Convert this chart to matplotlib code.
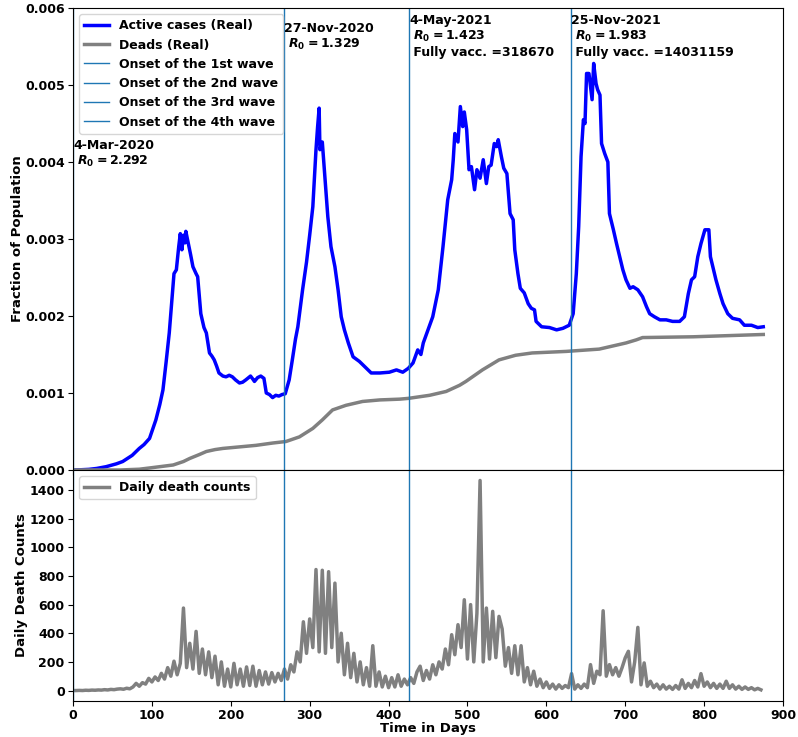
import numpy as np
import matplotlib.pyplot as plt

# active cases (fraction of population, x1e-3)
active_days = [0, 10, 20, 30, 42, 55, 63, 75, 84, 90, 97, 105, 110, 114, 118, 122, 126, 128, 131, 134,
               136, 138, 140, 142, 143, 146, 149, 152, 156, 158, 162, 166, 169, 173, 176, 179, 182, 185, 190, 194,
               198, 202, 206, 211, 215, 219, 225, 228, 230, 234, 238, 242, 245, 249, 253, 257, 261, 265, 269, 274,
               278, 282, 285, 291, 296, 300, 304, 308, 310, 312, 313, 316, 319, 323, 327, 332, 336, 340, 344, 349,
               355, 363, 372, 378, 389, 401, 410, 418, 425, 431, 437, 441, 444, 450, 456, 463, 469, 475, 480, 482,
               484, 488, 491, 494, 496, 499, 502, 505, 509, 512, 516, 520, 524, 527, 530, 534, 537, 539, 543, 546,
               550, 554, 558, 560, 564, 567, 572, 577, 581, 585, 587, 594, 604, 613, 621, 629, 634, 638, 641, 644,
               647, 649, 651, 654, 656, 658, 660, 663, 665, 668, 670, 674, 678, 680, 685, 689, 693, 697, 701, 706,
               710, 716, 722, 727, 731, 737, 744, 752, 760, 769, 775, 780, 784, 788, 792, 796, 801, 806, 808, 811,
               815, 820, 824, 830, 836, 845, 851, 860, 868, 875]
active_vals = [0.0, 0.003, 0.008, 0.02, 0.043, 0.08, 0.11, 0.19, 0.28, 0.33, 0.41, 0.65, 0.85, 1.04, 1.40, 1.78, 2.30, 2.55, 2.60, 2.90,
               3.07, 2.86, 3.05, 2.95, 3.10, 2.95, 2.80, 2.64, 2.55, 2.51, 2.03, 1.85, 1.78, 1.52, 1.48, 1.43, 1.35, 1.26, 1.22, 1.21,
               1.23, 1.21, 1.17, 1.13, 1.14, 1.17, 1.22, 1.18, 1.15, 1.20, 1.22, 1.19, 1.00, 0.98, 0.94, 0.97, 0.96, 0.98, 0.99, 1.17,
               1.43, 1.70, 1.86, 2.34, 2.70, 3.05, 3.42, 4.16, 4.45, 4.70, 4.16, 4.26, 3.85, 3.29, 2.90, 2.64, 2.34, 1.99, 1.82, 1.65,
               1.47, 1.41, 1.32, 1.26, 1.26, 1.27, 1.30, 1.27, 1.32, 1.39, 1.56, 1.50, 1.65, 1.82, 1.99, 2.34, 2.90, 3.51, 3.77, 4.03,
               4.37, 4.26, 4.72, 4.46, 4.65, 4.42, 3.90, 3.94, 3.64, 3.90, 3.79, 4.03, 3.72, 3.94, 3.96, 4.24, 4.20, 4.29, 4.07, 3.92,
               3.85, 3.33, 3.25, 2.86, 2.55, 2.36, 2.30, 2.16, 2.10, 2.08, 1.93, 1.86, 1.85, 1.82, 1.84, 1.88, 2.03, 2.55, 3.16, 4.07,
               4.55, 4.50, 5.15, 5.15, 4.98, 4.81, 5.28, 5.02, 4.94, 4.87, 4.24, 4.11, 4.00, 3.33, 3.12, 2.94, 2.77, 2.60, 2.47, 2.36,
               2.38, 2.34, 2.25, 2.12, 2.03, 1.99, 1.95, 1.95, 1.93, 1.93, 1.99, 2.29, 2.47, 2.51, 2.77, 2.94, 3.12, 3.12, 2.77, 2.64,
               2.47, 2.29, 2.16, 2.03, 1.97, 1.95, 1.88, 1.88, 1.85, 1.86]

# cumulative deaths (fraction of population, x1e-3)
dead_days = [0, 60, 84, 100, 127, 140, 148, 160, 169, 180, 190, 211, 232, 253, 270, 287, 304, 316, 329, 346,
             367, 389, 414, 425, 452, 473, 490, 498, 519, 540, 561, 582, 625, 667, 701, 714, 722, 786, 875]
dead_vals = [0.0, 0.0, 0.01, 0.03, 0.065, 0.11, 0.15, 0.20, 0.24, 0.265, 0.28, 0.30, 0.32, 0.35, 0.37, 0.43, 0.54, 0.65, 0.78, 0.84,
             0.89, 0.91, 0.92, 0.93, 0.97, 1.02, 1.10, 1.15, 1.30, 1.43, 1.49, 1.52, 1.54, 1.57, 1.65, 1.69, 1.72, 1.73, 1.76]

# daily death counts, one value every 4 days (day 0 .. 872)
daily_deaths = [
    0, 0, 1, 0, 2, 1, 3, 2, 4, 3, 6, 4, 8, 6, 10, 12, 9, 16, 12, 25, 50, 30, 55, 45, 85,
    60, 95, 70, 120, 80, 160, 100, 205, 110, 190, 576, 160, 330, 150, 413, 120, 290, 110, 270, 90, 240, 40, 200, 30, 150,
    25, 190, 40, 150, 30, 165, 35, 170, 30, 140, 40, 130, 45, 125, 60, 120, 70, 150, 80, 180, 130, 270, 200, 480, 260,
    500, 300, 845, 270, 840, 260, 830, 300, 750, 200, 400, 110, 330, 90, 260, 60, 200, 40, 160, 30, 313, 30, 130, 25, 100,
    20, 90, 25, 110, 30, 80, 40, 90, 50, 130, 170, 70, 140, 80, 180, 110, 200, 150, 290, 180, 390, 250, 460, 300, 634,
    220, 600, 200, 540, 1467, 200, 576, 220, 553, 230, 518, 430, 170, 300, 120, 313, 110, 313, 60, 160, 40, 135, 30, 80, 20,
    60, 15, 45, 10, 40, 15, 35, 20, 118, 10, 40, 15, 45, 20, 181, 50, 135, 110, 557, 100, 181, 110, 160, 100, 160,
    228, 274, 60, 200, 441, 40, 193, 30, 65, 20, 45, 10, 40, 10, 30, 8, 35, 10, 75, 15, 50, 20, 70, 25, 118,
    30, 60, 20, 50, 15, 45, 15, 65, 15, 40, 10, 30, 8, 25, 8, 20, 5, 15, 5,
]
death_days = np.arange(0, 4 * len(daily_deaths), 4)

# wave onsets (days since 4-Mar-2020) and labels
onset_days = [0, 268, 426, 631]
onset_names = ['Onset of the 1st wave', 'Onset of the 2nd wave',
               'Onset of the 3rd wave', 'Onset of the 4th wave']
onset_text = ['4-Mar-2020\n $R_0 = $2.292',
              '27-Nov-2020\n $R_0 = $1.329',
              '4-May-2021\n $R_0 = $1.423\n Fully vacc. =318670',
              '25-Nov-2021\n $R_0 = $1.983\n Fully vacc. =14031159']
onset_text_y = [0.0043, 0.00582, 0.00592, 0.00592]

plt.rcParams['font.weight'] = 'bold'
plt.rcParams['axes.labelweight'] = 'bold'
plt.rcParams['font.size'] = 9
plt.rcParams['xtick.major.pad'] = 2
plt.rcParams['ytick.major.pad'] = 2.5

fig = plt.figure(figsize=(7.98, 7.37), dpi=100)
ax1 = fig.add_axes([0.0915, 0.3623, 0.8897, 0.6268])
ax2 = fig.add_axes([0.0915, 0.0488, 0.8897, 0.3135], sharex=ax1)

ax1.plot(active_days, np.array(active_vals) * 1e-3, color='blue', lw=2.5, label='Active cases (Real)')
ax1.plot(dead_days, np.array(dead_vals) * 1e-3, color='gray', lw=2.5, label='Deads (Real)')
for d, name in zip(onset_days, onset_names):
    ax1.axvline(d, color='tab:blue', lw=1, label=name)
for d, txt, ty in zip(onset_days, onset_text, onset_text_y):
    ax1.text(d, ty, txt, ha='left', va='top', fontsize=9, fontweight='bold')

ax1.set_xlim(0, 900)
ax1.set_ylim(0, 0.006)
ax1.set_yticks(np.arange(0, 0.0061, 0.001))
ax1.set_ylabel('Fraction of Population', fontsize=9.5, labelpad=1)
ax1.tick_params(labelbottom=False)
ax1.legend(loc='upper left', prop={'weight': 'bold', 'size': 9})

ax2.plot(death_days, daily_deaths, color='gray', lw=2.5, label='Daily death counts')
for d in onset_days:
    ax2.axvline(d, color='tab:blue', lw=1)
ax2.set_xticks(np.arange(0, 901, 100))
ax2.set_yticks(np.arange(0, 1401, 200))
ax2.set_ylabel('Daily Death Counts', fontsize=9.5, labelpad=1)
ax2.set_xlabel('Time in Days', fontsize=9.5, labelpad=0)
ax2.legend(loc='upper left', prop={'weight': 'bold', 'size': 9})

plt.savefig('out.png')
plt.close()
